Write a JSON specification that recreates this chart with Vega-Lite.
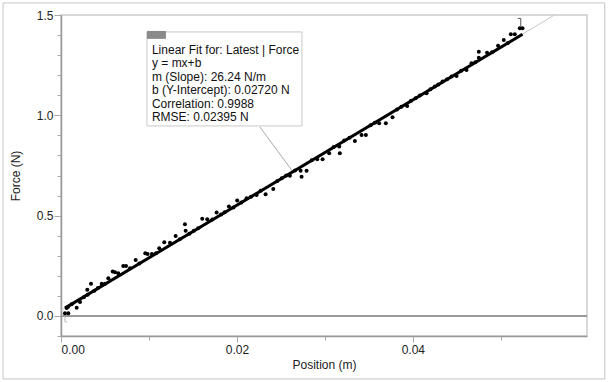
{
  "$schema": "https://vega.github.io/schema/vega-lite/v6.json",
  "width": 526,
  "height": 321,
  "autosize": {"type": "none"},
  "padding": {"left": 61, "top": 15, "right": 24, "bottom": 46},
  "background": "white",
  "config": {
    "font": "Liberation Sans",
    "view": {"stroke": "#cccccc", "strokeWidth": 1.5},
    "axis": {
      "grid": false,
      "labelFont": "Liberation Sans",
      "titleFont": "Liberation Sans",
      "labelFontSize": 12,
      "titleFontSize": 12,
      "titleFontWeight": "normal",
      "labelColor": "#222222",
      "titleColor": "#222222",
      "tickColor": "#aaaaaa",
      "domainColor": "#999999",
      "domainWidth": 1.5
    }
  },
  "datasets": {
    "pts": [
      {"x":0.00045,"y":0.013},{"x":0.00065,"y":0.040},{"x":0.0008,"y":0.046},{"x":0.00083,"y":0.013},{"x":0.0012,"y":0.058},{"x":0.00178,"y":0.041},{"x":0.00216,"y":0.070},{"x":0.0026,"y":0.093},{"x":0.00299,"y":0.130},{"x":0.00303,"y":0.105},{"x":0.00341,"y":0.160},{"x":0.0038,"y":0.125},{"x":0.0042,"y":0.139},{"x":0.00463,"y":0.160},{"x":0.005,"y":0.161},{"x":0.00538,"y":0.188},{"x":0.00588,"y":0.221},{"x":0.00614,"y":0.218},{"x":0.00651,"y":0.213},{"x":0.00708,"y":0.249},{"x":0.00739,"y":0.249},{"x":0.00784,"y":0.238},{"x":0.00849,"y":0.279},{"x":0.0089,"y":0.261},{"x":0.00958,"y":0.3125},{"x":0.00985,"y":0.309},{"x":0.01034,"y":0.309},{"x":0.0108,"y":0.313},{"x":0.01117,"y":0.337},{"x":0.01174,"y":0.367},{"x":0.01239,"y":0.365},{"x":0.01303,"y":0.399},{"x":0.0135,"y":0.382},{"x":0.01409,"y":0.457},{"x":0.01417,"y":0.425},{"x":0.0146,"y":0.410},{"x":0.0151,"y":0.424},{"x":0.0156,"y":0.437},{"x":0.01606,"y":0.485},{"x":0.01663,"y":0.482},{"x":0.0172,"y":0.481},{"x":0.01769,"y":0.515},{"x":0.0182,"y":0.505},{"x":0.0186,"y":0.517},{"x":0.01909,"y":0.545},{"x":0.0196,"y":0.541},{"x":0.02003,"y":0.575},{"x":0.0205,"y":0.566},{"x":0.0211,"y":0.587},{"x":0.0216,"y":0.594},{"x":0.02224,"y":0.603},{"x":0.0227,"y":0.624},{"x":0.02326,"y":0.607},{"x":0.02413,"y":0.633},{"x":0.0246,"y":0.672},{"x":0.0251,"y":0.686},{"x":0.0256,"y":0.700},{"x":0.02602,"y":0.699},{"x":0.0266,"y":0.725},{"x":0.02724,"y":0.724},{"x":0.02735,"y":0.694},{"x":0.02792,"y":0.724},{"x":0.0285,"y":0.776},{"x":0.02913,"y":0.781},{"x":0.02974,"y":0.781},{"x":0.03049,"y":0.811},{"x":0.0310,"y":0.842},{"x":0.03163,"y":0.844},{"x":0.0317,"y":0.811},{"x":0.0322,"y":0.874},{"x":0.0328,"y":0.888},{"x":0.03341,"y":0.872},{"x":0.03417,"y":0.902},{"x":0.03466,"y":0.902},{"x":0.0352,"y":0.951},{"x":0.0357,"y":0.963},{"x":0.03617,"y":0.960},{"x":0.03693,"y":0.960},{"x":0.03769,"y":0.990},{"x":0.0382,"y":1.029},{"x":0.0387,"y":1.043},{"x":0.03935,"y":1.047},{"x":0.0398,"y":1.073},{"x":0.0403,"y":1.085},{"x":0.0408,"y":1.099},{"x":0.04156,"y":1.110},{"x":0.0420,"y":1.130},{"x":0.0425,"y":1.143},{"x":0.0429,"y":1.154},{"x":0.04338,"y":1.168},{"x":0.0439,"y":1.180},{"x":0.0444,"y":1.193},{"x":0.04497,"y":1.196},{"x":0.0455,"y":1.222},{"x":0.0461,"y":1.226},{"x":0.04667,"y":1.260},{"x":0.0471,"y":1.264},{"x":0.0475,"y":1.2875},{"x":0.0475,"y":1.317},{"x":0.04844,"y":1.312},{"x":0.0490,"y":1.314},{"x":0.04969,"y":1.347},{"x":0.05034,"y":1.376},{"x":0.0508,"y":1.361},{"x":0.05114,"y":1.404},{"x":0.05159,"y":1.404},{"x":0.05216,"y":1.434},{"x":0.05247,"y":1.434}
    ],
    "fit": [{"x":0.00045,"y":0.0390},{"x":0.05247,"y":1.404}],
    "ext": [{"x":0,"y":0.0272},{"x":0.0561,"y":1.5}],
    "zero": [{"x":0,"x2":0.0598,"y":0}],
    "border": [{"x":-0.00659,"x2":0.06182,"y":1.5601,"y2":-0.314}],
    "leader": [{"x":0.02261,"y":0.942},{"x":0.02636,"y":0.719}],
    "brackets": [
      {"x":0.05193,"x2":0.05227,"y":1.483,"y2":1.483,"c":"dark"},
      {"x":0.05227,"x2":0.05227,"y":1.483,"y2":1.443,"c":"dark"},
      {"x":0.00045,"x2":0.00045,"y":-0.003,"y2":-0.03,"c":"light"},
      {"x":0.00045,"x2":0.0007,"y":-0.03,"y2":-0.03,"c":"light"}
    ],
    "box": [{"x":0.00977,"x2":0.02739,"y":1.4156,"y2":0.947}],
    "icon": [{"x":0.00977,"x2":0.01193,"y":1.4206,"y2":1.381}],
    "note": [
      {"x":0.01034,"y":1.3259,"t":"Linear Fit for: Latest | Force"},
      {"x":0.01034,"y":1.2586,"t":"y = mx+b"},
      {"x":0.01034,"y":1.1913,"t":"m (Slope): 26.24 N/m"},
      {"x":0.01034,"y":1.1240,"t":"b (Y-Intercept): 0.02720 N"},
      {"x":0.01034,"y":1.0567,"t":"Correlation: 0.9988"},
      {"x":0.01034,"y":0.9894,"t":"RMSE: 0.02395 N"}
    ]
  },
  "layer": [
    {
      "data": {"name": "border"},
      "mark": {"type": "rect", "fill": null, "fillOpacity": 0, "stroke": "#c4c4c4", "strokeWidth": 1},
      "encoding": {
        "x": {"field": "x", "type": "quantitative", "scale": {"domain": [0, 0.0598], "nice": false, "zero": false}, "axis": null},
        "x2": {"field": "x2"},
        "y": {"field": "y", "type": "quantitative", "scale": {"domain": [-0.1, 1.5], "nice": false, "zero": false}, "axis": null},
        "y2": {"field": "y2"}
      }
    },
    {
      "data": {"name": "zero"},
      "mark": {"type": "rule", "color": "#999999", "strokeWidth": 2},
      "encoding": {
        "x": {"field": "x", "type": "quantitative", "scale": {"domain": [0, 0.0598], "nice": false, "zero": false},
              "axis": {"orient": "bottom", "values": [0.01, 0.03, 0.05], "labels": false, "domain": false, "tickSize": 4, "title": null}},
        "x2": {"field": "x2"},
        "y": {"field": "y", "type": "quantitative", "scale": {"domain": [-0.1, 1.5], "nice": false, "zero": false},
              "axis": {"orient": "left", "values": [-0.1, 0.1, 0.2, 0.3, 0.4, 0.6, 0.7, 0.8, 0.9, 1.1, 1.2, 1.3, 1.4], "labels": false, "domain": false, "tickSize": 4, "title": null}}
      }
    },
    {
      "data": {"name": "ext"},
      "mark": {"type": "line", "color": "#c8c8c8", "strokeWidth": 1},
      "encoding": {
        "x": {"field": "x", "type": "quantitative", "scale": {"domain": [0, 0.0598], "nice": false, "zero": false}, "axis": null},
        "y": {"field": "y", "type": "quantitative", "scale": {"domain": [-0.1, 1.5], "nice": false, "zero": false}, "axis": null}
      }
    },
    {
      "data": {"name": "leader"},
      "mark": {"type": "line", "color": "#aaaaaa", "strokeWidth": 1},
      "encoding": {
        "x": {"field": "x", "type": "quantitative", "scale": {"domain": [0, 0.0598], "nice": false, "zero": false}, "axis": null},
        "y": {"field": "y", "type": "quantitative", "scale": {"domain": [-0.1, 1.5], "nice": false, "zero": false}, "axis": null}
      }
    },
    {
      "data": {"name": "brackets"},
      "mark": {"type": "rule", "strokeWidth": 1},
      "encoding": {
        "x": {"field": "x", "type": "quantitative", "scale": {"domain": [0, 0.0598], "nice": false, "zero": false}, "axis": null},
        "x2": {"field": "x2"},
        "y": {"field": "y", "type": "quantitative", "scale": {"domain": [-0.1, 1.5], "nice": false, "zero": false}, "axis": null},
        "y2": {"field": "y2"},
        "color": {"field": "c", "type": "nominal", "scale": {"domain": ["dark", "light"], "range": ["#555555", "#bbbbbb"]}, "legend": null}
      }
    },
    {
      "data": {"name": "fit"},
      "mark": {"type": "line", "color": "#000000", "strokeWidth": 3},
      "encoding": {
        "x": {"field": "x", "type": "quantitative", "scale": {"domain": [0, 0.0598], "nice": false, "zero": false}, "axis": null},
        "y": {"field": "y", "type": "quantitative", "scale": {"domain": [-0.1, 1.5], "nice": false, "zero": false}, "axis": null}
      }
    },
    {
      "data": {"name": "pts"},
      "mark": {"type": "circle", "color": "#000000", "opacity": 1, "size": 16},
      "encoding": {
        "x": {"field": "x", "type": "quantitative", "scale": {"domain": [0, 0.0598], "nice": false, "zero": false},
              "axis": {"orient": "bottom", "values": [0, 0.02, 0.04], "format": ".2f", "title": "Position (m)", "tickSize": 6, "labelPadding": 2, "titlePadding": 4}},
        "y": {"field": "y", "type": "quantitative", "scale": {"domain": [-0.1, 1.5], "nice": false, "zero": false},
              "axis": {"orient": "left", "values": [0, 0.5, 1, 1.5], "format": ".1f", "title": "Force (N)", "tickSize": 7, "labelPadding": 1, "titlePadding": 14}}
      }
    },
    {
      "data": {"name": "box"},
      "mark": {"type": "rect", "fill": "white", "stroke": "#c8c8c8", "strokeWidth": 1},
      "encoding": {
        "x": {"field": "x", "type": "quantitative", "scale": {"domain": [0, 0.0598], "nice": false, "zero": false}, "axis": null},
        "x2": {"field": "x2"},
        "y": {"field": "y", "type": "quantitative", "scale": {"domain": [-0.1, 1.5], "nice": false, "zero": false}, "axis": null},
        "y2": {"field": "y2"}
      }
    },
    {
      "data": {"name": "icon"},
      "mark": {"type": "rect", "fill": "#8a8a8a"},
      "encoding": {
        "x": {"field": "x", "type": "quantitative", "scale": {"domain": [0, 0.0598], "nice": false, "zero": false}, "axis": null},
        "x2": {"field": "x2"},
        "y": {"field": "y", "type": "quantitative", "scale": {"domain": [-0.1, 1.5], "nice": false, "zero": false}, "axis": null},
        "y2": {"field": "y2"}
      }
    },
    {
      "data": {"name": "note"},
      "mark": {"type": "text", "align": "left", "baseline": "middle", "fontSize": 12, "font": "Liberation Sans", "color": "#111111"},
      "encoding": {
        "x": {"field": "x", "type": "quantitative", "scale": {"domain": [0, 0.0598], "nice": false, "zero": false}, "axis": null},
        "y": {"field": "y", "type": "quantitative", "scale": {"domain": [-0.1, 1.5], "nice": false, "zero": false}, "axis": null},
        "text": {"field": "t"}
      }
    }
  ],
  "resolve": {"axis": {"x": "independent", "y": "independent"}}
}
